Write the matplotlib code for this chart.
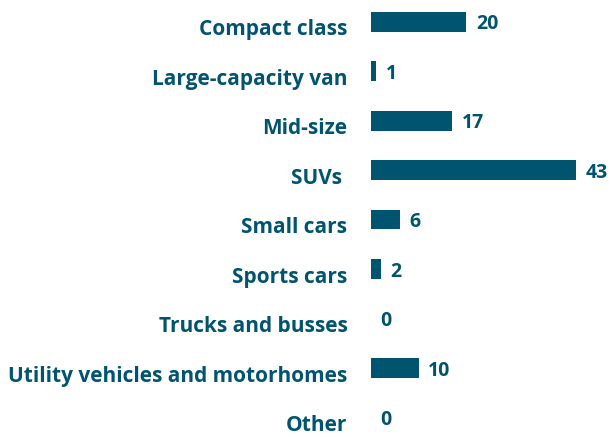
import matplotlib.pyplot as plt
import matplotlib.transforms as mtransforms

# categories and values (top to bottom)
categories = ["Compact class", "Large-capacity van", "Mid-size", "SUVs ", "Small cars",
              "Sports cars", "Trucks and busses", "Utility vehicles and motorhomes", "Other"]
values = [20, 1, 17, 43, 6, 2, 0, 10, 0]

teal = "#005470"
plt.rcParams['font.family'] = ['Open Sans', 'DejaVu Sans']

fig = plt.figure(figsize=(6.11, 4.37), dpi=100)
# axes: left edge at bar start, rows spaced ~49.5 px
ax = fig.add_axes([371 / 611, -0.012, 238 / 611, 1.019])

y = list(range(len(categories)))
ax.barh(y, values, height=0.4, color=teal)
ax.set_xlim(0, 50)
ax.set_ylim(len(categories) - 0.5, -0.5)

for yi, v in zip(y, values):
    ax.annotate(str(v), (v, yi), xytext=(7, 0), textcoords="offset points",
                va="center_baseline", ha="left", fontsize=14, fontweight="bold", color=teal)

ax.set_yticks(y)
ax.set_yticklabels(categories, fontsize=15, fontweight="bold", color=teal)
ax.tick_params(axis="y", length=0, pad=17)
# category labels sit a bit lower than the bars
shift = mtransforms.ScaledTranslation(0, -5.5 / 100, fig.dpi_scale_trans)
for lab in ax.get_yticklabels():
    lab.set_transform(lab.get_transform() + shift)
ax.set_xticks([])
for s in ax.spines.values():
    s.set_visible(False)

fig.savefig("out.png", dpi=100)
